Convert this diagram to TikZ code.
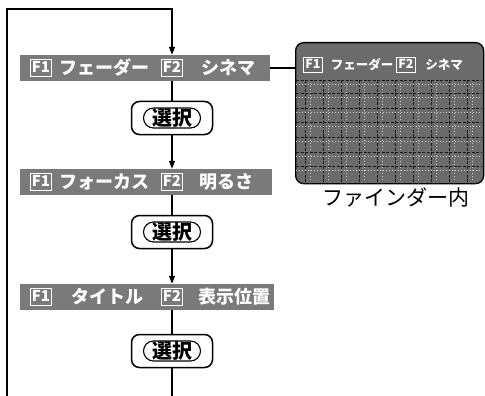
\documentclass[tikz,border=0pt]{standalone}
\usepackage{fontspec}
\setmainfont{Noto Sans CJK JP}
\usetikzlibrary{arrows.meta}
\newcommand{\fk}[1]{{\fboxsep=1.2pt\fboxrule=1.1pt\fbox{\rule[-0.18em]{0pt}{0.95em}#1}}}
\tikzset{
  px/.style={x=1pt,y=-1pt},
  wire/.style={line width=1.2pt,black},
  arr/.style={wire,-{Triangle[length=8pt,width=6pt]}},
  barbox/.style={fill=black!52,draw=none,minimum height=26pt,inner sep=0pt,anchor=west},
  bartxt/.style={text=white,font=\fontsize{18}{18}\selectfont\bfseries,inner sep=0pt},
  keytxt/.style={text=white,font=\fontsize{15}{15}\selectfont\bfseries,inner sep=0pt},
  selbox/.style={draw,line width=1.5pt,rounded corners=8pt,fill=white,minimum width=81pt,minimum height=33pt},
  seloval/.style={draw,line width=1.1pt,rounded corners=10pt,minimum width=57pt,minimum height=20pt,inner sep=0pt,font=\fontsize{20}{20}\selectfont\bfseries},
  fintxt/.style={text=white,font=\fontsize{12.5}{12.5}\selectfont\bfseries,inner sep=0pt},
  finkey/.style={text=white,font=\fontsize{12.5}{12.5}\selectfont\bfseries,inner sep=0pt},
}
\begin{document}
\begin{tikzpicture}[px]
\useasboundingbox (0,0) rectangle (485,396);
% bars
\node[barbox,minimum width=250pt] (bar1) at (20,68) {};
\node[keytxt] (b1k1) at (41,68) {\fk{F1}};
\node[bartxt] (b1l1) at (104,68) {フェーダー};
\node[keytxt] (b1k2) at (172,68) {\fk{F2}};
\node[bartxt] (b1l2) at (228,68) {シネマ};

\node[barbox,minimum width=252pt] (bar2) at (20,182) {};
\node[keytxt] (b2k1) at (41,182) {\fk{F1}};
\node[bartxt] (b2l1) at (104,182) {フォーカス};
\node[keytxt] (b2k2) at (172,182) {\fk{F2}};
\node[bartxt] (b2l2) at (226,182) {明るさ};

\node[barbox,minimum width=254pt] (bar3) at (20,297) {};
\node[keytxt] (b3k1) at (41,297) {\fk{F1}};
\node[bartxt] (b3l1) at (107,297) {タイトル};
\node[keytxt] (b3k2) at (172,297) {\fk{F2}};
\node[bartxt] (b3l2) at (234,297) {表示位置};

% select boxes
\node[selbox] (s1) at (172,118) {};
\node[seloval] (o1) at (s1.center) {選択};
\node[selbox] (s2) at (172,232) {};
\node[seloval] (o2) at (s2.center) {選択};
\node[selbox] (s3) at (172,351) {};
\node[seloval] (o3) at (s3.center) {選択};

% finder
\node[draw,line width=1.3pt,rounded corners=8pt,fill=black!58,minimum width=188pt,minimum height=141pt,anchor=north west] (fin) at (295,42) {};
\begin{scope}
\clip[rounded corners=7pt] (296,43) rectangle (482,182);
\foreach \x in {305,323,341,359,377,395,413,431,449,467}
  {\draw[black!90,line width=0.9pt,dash pattern=on 3pt off 1.5pt] (\x,80) -- (\x,182);
   \draw[white!80!black,line width=0.6pt,dash pattern=on 1pt off 2pt] (\x+5,80) -- (\x+5,182);}
\foreach \y in {80,93,108,122,137,152,166}
  {\draw[black!90,line width=0.9pt,dash pattern=on 3pt off 1.5pt] (296,\y) -- (482,\y);
   \draw[white!80!black,line width=0.6pt,dash pattern=on 1pt off 2pt] (296,\y+4) -- (482,\y+4);}
\end{scope}
\node[finkey] (fk1) at (313,65) {\fk{F1}};
\node[fintxt] (fl1) at (362,65) {フェーダー};
\node[finkey] (fk2) at (406,65) {\fk{F2}};
\node[fintxt] (fl2) at (444,65) {シネマ};
\node[font=\fontsize{21}{21}\selectfont,inner sep=0pt] (finlbl) at (396,197) {ファインダー内};

% connectors
\coordinate (lb) at (7,396);
\coordinate (lt) at (7,9);
\coordinate (bend) at (172,396);
\draw[arr] (lb) -- (lt) -| (bar1.north -| b1k2);
\draw[wire] (bar1.east) -- (bar1.east -| fin.west);
\draw[wire] (bar1.south -| s1.north) -- (s1.north);
\draw[arr] (s1.south) -- (s1.south |- bar2.north);
\draw[wire] (bar2.south -| s2.north) -- (s2.north);
\draw[arr] (s2.south) -- (s2.south |- bar3.north);
\draw[wire] (bar3.south -| s3.north) -- (s3.north);
\draw[wire] (s3.south) -- (bend);
\end{tikzpicture}
\end{document}
